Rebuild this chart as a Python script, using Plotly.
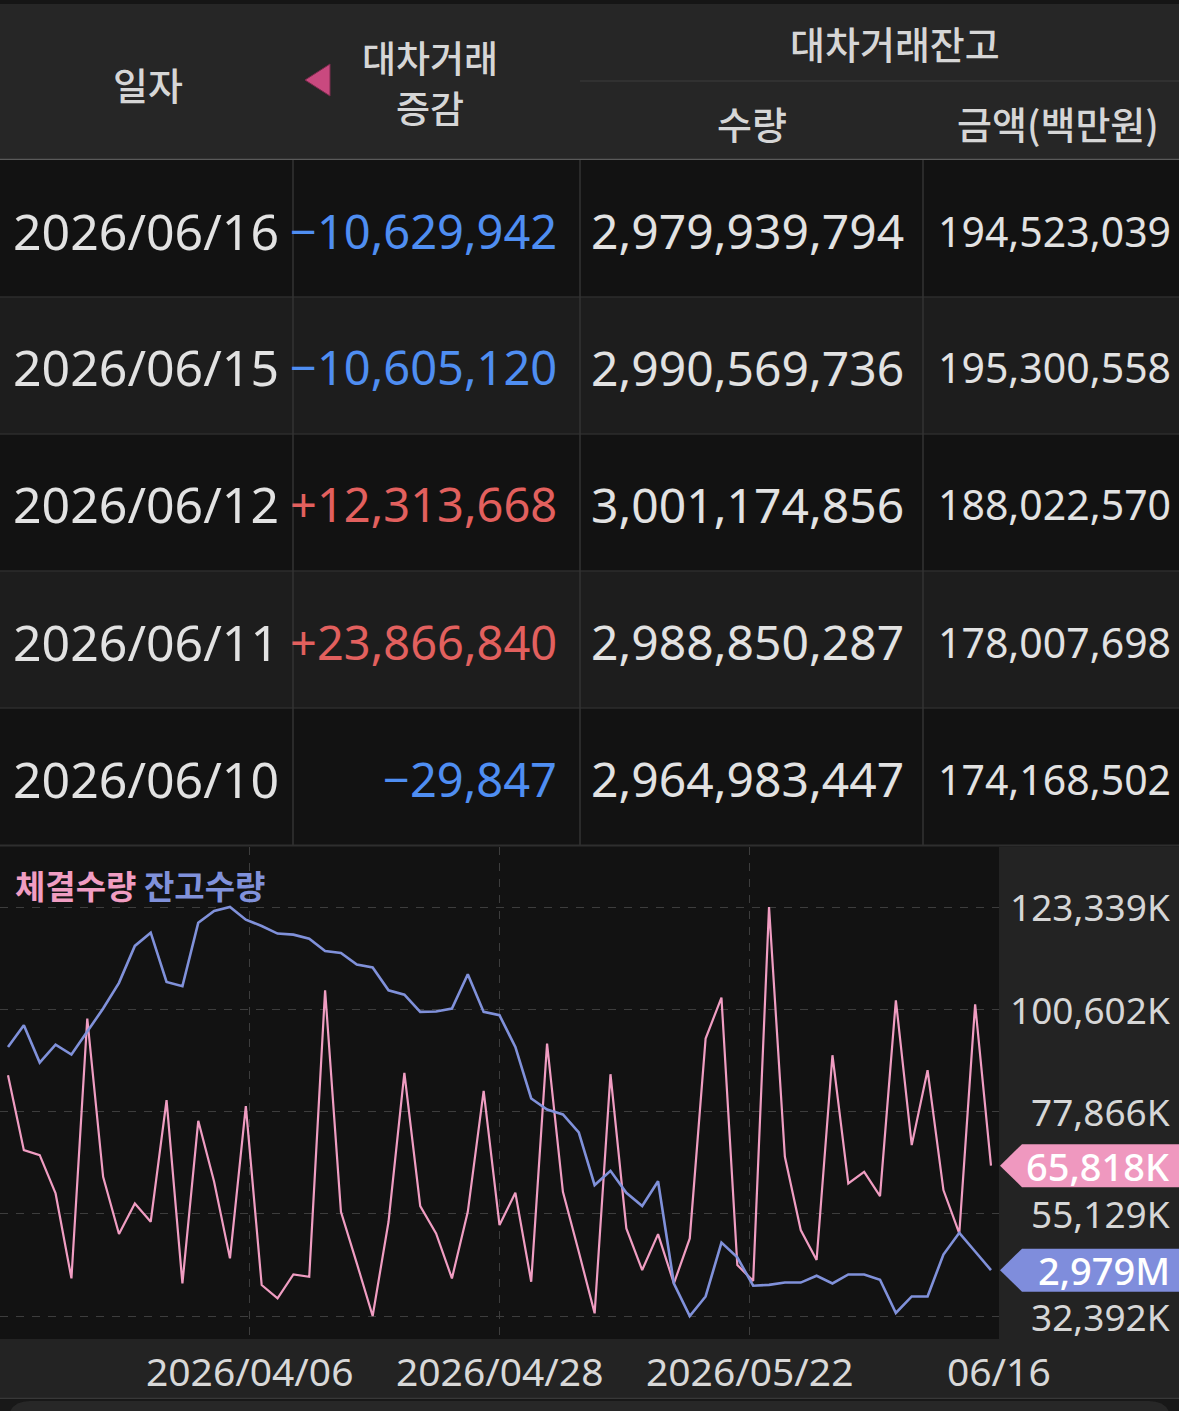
import plotly.graph_objects as go

# ---- table data (top part) ----
tbl_dates = ["2026/06/16", "2026/06/15", "2026/06/12", "2026/06/11", "2026/06/10"]
tbl_change = [-10629942, -10605120, 12313668, 23866840, -29847]
tbl_qty = [2979939794, 2990569736, 3001174856, 2988850287, 2964983447]
tbl_amt = [194523039, 195300558, 188022570, 178007698, 174168502]

# ---- chart data (trading days 2026/03/16 .. 2026/06/16) ----
dates = [
    "2026/03/16", "2026/03/17", "2026/03/18", "2026/03/19", "2026/03/20",
    "2026/03/23", "2026/03/24", "2026/03/25", "2026/03/26", "2026/03/27",
    "2026/03/30", "2026/03/31", "2026/04/01", "2026/04/02", "2026/04/03",
    "2026/04/06", "2026/04/07", "2026/04/08", "2026/04/09", "2026/04/10",
    "2026/04/13", "2026/04/14", "2026/04/15", "2026/04/16", "2026/04/17",
    "2026/04/20", "2026/04/21", "2026/04/22", "2026/04/23", "2026/04/24",
    "2026/04/27", "2026/04/28", "2026/04/29", "2026/04/30", "2026/05/04",
    "2026/05/06", "2026/05/07", "2026/05/08", "2026/05/11", "2026/05/12",
    "2026/05/13", "2026/05/14", "2026/05/15", "2026/05/18", "2026/05/19",
    "2026/05/20", "2026/05/21", "2026/05/22", "2026/05/26", "2026/05/27",
    "2026/05/28", "2026/05/29", "2026/06/01", "2026/06/02", "2026/06/04",
    "2026/06/05", "2026/06/08", "2026/06/09", "2026/06/10", "2026/06/11",
    "2026/06/12", "2026/06/15", "2026/06/16",
]

# 체결수량 (thousand shares)
exec_k = [
    85940, 69280, 68160, 59650, 40760, 98530, 63350, 50610, 57430, 53350,
    80380, 39650, 75790, 62240, 45210, 79050, 39280, 36320, 41650, 41130,
    104820, 55570, 44100, 32392, 53350, 86460, 56830, 50760, 40760, 55570,
    82460, 52610, 59800, 40020, 92970, 60020, 46690, 32990, 86160, 51870,
    42610, 50610, 39650, 49650, 94090, 103200, 43720, 40200, 123339, 67790,
    51500, 44840, 90380, 61870, 64460, 59060, 102600, 70390, 87050, 60390,
    50760, 101710, 65818,
]

# 잔고수량 (million shares)
bal_m = [
    3106.8, 3119.1, 3097.9, 3108.1, 3102.5, 3115.3, 3128.6, 3143.2, 3164.2, 3171.7,
    3143.7, 3141.3, 3177.4, 3184.0, 3186.3, 3179.1, 3175.5, 3171.2, 3170.6, 3168.3,
    3161.3, 3160.2, 3153.6, 3151.9, 3139.0, 3136.5, 3126.7, 3126.9, 3128.6, 3148.1,
    3126.7, 3124.8, 3106.8, 3077.5, 3071.2, 3068.4, 3058.2, 3028.3, 3036.4, 3023.9,
    3016.4, 3030.5, 2972.3, 2953.9, 2965.0, 2995.6, 2987.2, 2971.1, 2971.6, 2972.9,
    2972.9, 2976.8, 2972.4, 2977.5, 2977.5, 2974.5, 2955.6, 2965.01, 2964.98, 2988.85,
    3001.17, 2990.57, 2979.94,
]

W, H = 1179, 1411
PINK = "#f09dc2"
BLUE = "#8091da"
NUM = "Noto Sans, Noto Sans CJK KR"
KR = "Noto Sans CJK KR"


def px(x):
    return x / W


def py(y):
    return 1 - y / H


shapes = []
annotations = []


def rect(x0, y0, x1, y1, color, layer="below"):
    shapes.append(dict(type="rect", xref="paper", yref="paper",
                       x0=px(x0), x1=px(x1), y0=py(y1), y1=py(y0),
                       fillcolor=color, line_width=0, layer=layer))


def line(x0, y0, x1, y1, color, w=1):
    shapes.append(dict(type="line", xref="paper", yref="paper",
                       x0=px(x0), x1=px(x1), y0=py(y0), y1=py(y1),
                       line=dict(color=color, width=w), layer="below"))


def text(x, y, s, size, color, anchor="center", family=NUM, weight="normal"):
    annotations.append(dict(xref="paper", yref="paper", x=px(x), y=py(y), text=s,
                            showarrow=False, xanchor=anchor, yanchor="middle",
                            font=dict(size=size, color=color, family=family, weight=weight)))


def signed(v):
    return ("+" if v > 0 else "\u2212") + f"{abs(v):,}"


# ---- table header ----
rect(0, 0, W, 160, "#262626")
rect(0, 0, W, 4, "#151515")
line(580, 81, W, 81, "#363636", 1.5)
line(0, 159.5, W, 159.5, "#5a5a5a", 1.5)
HDR = "#d6d6d6"
text(148, 83, "일자", 38, HDR, family=KR, weight=500)
text(430, 57, "대차거래", 37, HDR, family=KR, weight=500)
text(430, 107, "증감", 37, HDR, family=KR, weight=500)
text(895, 43, "대차거래잔고", 38, HDR, family=KR, weight=500)
text(752, 122, "수량", 38, HDR, family=KR, weight=500)
text(1058, 122, "금액(백만원)", 38, HDR, family=KR, weight=500)
shapes.append(dict(type="path", xref="paper", yref="paper",
                   path=f"M {px(305)},{py(80)} L {px(330)},{py(64)} L {px(330)},{py(96)} Z",
                   fillcolor="#c9497f", line=dict(color="#7a2a4c", width=1), layer="above"))

# ---- table rows ----
ROW_TOP, ROW_H = 160, 137
for i in range(len(tbl_dates)):
    top = ROW_TOP + i * ROW_H
    rect(0, top, W, top + ROW_H, "#121212" if i % 2 == 0 else "#1d1d1d")
    if i > 0:
        line(0, top, W, top, "#2c2c2c", 1.5)
    cy = top + ROW_H / 2 + 2
    text(146, cy, tbl_dates[i], 50, "#e2e2e2")
    text(559, cy, signed(tbl_change[i]), 47,
         "#e2605e" if tbl_change[i] > 0 else "#4f8ef2", anchor="right")
    text(906, cy, f"{tbl_qty[i]:,}", 48, "#e2e2e2", anchor="right")
    text(1173, cy, f"{tbl_amt[i]:,}", 41, "#e2e2e2", anchor="right")
table_bottom = ROW_TOP + len(tbl_dates) * ROW_H
for xv in (293, 580, 923):
    line(xv, ROW_TOP, xv, table_bottom, "#333333", 1.5)
line(0, table_bottom + 0.5, W, table_bottom + 0.5, "#2e2e2e", 2)

# ---- chart frame ----
PLOT_T, PLOT_B, PLOT_R = 847, 1339, 999
rect(PLOT_R, PLOT_T, W, 1398, "#232323")
rect(0, PLOT_B, W, 1398, "#232323")
line(0, 1398.5, W, 1398.5, "#383838", 1.5)
rect(0, 1399, W, H, "#181818")
r = 22
shapes.append(dict(type="path", xref="paper", yref="paper",
                   path=(f"M {px(8)},{py(1420)} L {px(8)},{py(1401 + r)} "
                         f"Q {px(8)},{py(1401)} {px(8 + r)},{py(1401)} "
                         f"L {px(1171 - r)},{py(1401)} Q {px(1171)},{py(1401)} {px(1171)},{py(1401 + r)} "
                         f"L {px(1171)},{py(1420)} Z"),
                   fillcolor="#272727", line_width=0, layer="below"))

n = len(dates)
xs = list(range(n))
x_lo, x_hi = -0.505, n - 1 + 0.505
quarters = [x_lo + k * (x_hi - x_lo) / 4 for k in (1, 2, 3, 4)]

# app style: min->max of each series spans the band between outer gridlines
PAD_HI, PAD_LO = 0.1467, 0.0562
e_min, e_max = min(exec_k), max(exec_k)
e_span = e_max - e_min
b_min, b_max = min(bal_m), max(bal_m)
b_span = b_max - b_min
e_ticks = [e_min + k * e_span / 4 for k in range(5)]

fig = go.Figure()
fig.add_trace(go.Scatter(x=xs, y=exec_k, mode="lines", name="체결수량",
                         line=dict(color=PINK, width=2.2), yaxis="y"))
fig.add_trace(go.Scatter(x=xs, y=bal_m, mode="lines", name="잔고수량",
                         line=dict(color=BLUE, width=2.6), yaxis="y2"))

# y tick labels (right aligned in the side panel)
for v in e_ticks:
    annotations.append(dict(xref="paper", yref="y", x=px(1172), y=v, text=f"{round(v):,}K",
                            showarrow=False, xanchor="right", yanchor="middle",
                            font=dict(size=37, color="#d6d6d6", family="Noto Sans")))

# x tick labels
for k, q in enumerate(quarters):
    idx = min(round(q), n - 1)
    lab = dates[idx] if k < 3 else dates[idx][5:]
    annotations.append(dict(xref="x", yref="paper", x=q, y=py(1370), text=lab,
                            showarrow=False, xanchor="center", yanchor="middle",
                            font=dict(size=39, color="#d8d8d8", family="Noto Sans")))

# last-value tags
tag_path = "M 1,0 L 23,21.5 L 181,21.5 L 181,-21.5 L 23,-21.5 Z"
for val, yref, color, label in (
        (exec_k[-1], "y", "#ef98bf", f"{exec_k[-1]:,}K"),
        (bal_m[-1], "y2", "#7f8ddc", f"{int(bal_m[-1]):,}M")):
    shapes.append(dict(type="path", xref="paper", yref=yref,
                       xsizemode="pixel", xanchor=px(PLOT_R), ysizemode="pixel", yanchor=val,
                       path=tag_path, fillcolor=color, line_width=0, layer="above"))
    annotations.append(dict(xref="paper", yref=yref, x=px(1172), y=val, text=label,
                            showarrow=False, xanchor="right", yanchor="middle",
                            font=dict(size=38, color="#ffffff", family="Noto Sans", weight=500)))

# legend text
annotations.append(dict(xref="paper", yref="paper", x=px(13), y=py(885),
                        text=f"<b><span style='color:{PINK}'>체결수량</span> "
                             f"<span style='color:{BLUE}'>잔고수량</span></b>",
                        showarrow=False, xanchor="left", yanchor="middle",
                        font=dict(size=33, family=KR)))

grid = dict(showgrid=True, gridcolor="#3d3d3d", gridwidth=1, griddash="8px,8px")
fig.update_layout(
    width=W, height=H,
    margin=dict(l=0, r=0, t=0, b=0),
    paper_bgcolor="#121212", plot_bgcolor="#121212",
    showlegend=False,
    xaxis=dict(domain=[0, px(PLOT_R)], range=[x_lo, x_hi], tickvals=quarters[:3],
               showticklabels=False, zeroline=False, showline=False, ticks="",
               fixedrange=True, **grid),
    yaxis=dict(domain=[py(PLOT_B), py(PLOT_T)],
               range=[e_min - PAD_LO * e_span, e_max + PAD_HI * e_span],
               tickvals=e_ticks, showticklabels=False, zeroline=False, ticks="",
               fixedrange=True, **grid),
    yaxis2=dict(overlaying="y", range=[b_min - PAD_LO * b_span, b_max + PAD_HI * b_span],
                visible=False, fixedrange=True),
    shapes=shapes,
    annotations=annotations,
)

fig.write_html("out.html", config={"displayModeBar": False},
               post_script="document.body.style.margin='0';document.body.style.background='#121212';")
